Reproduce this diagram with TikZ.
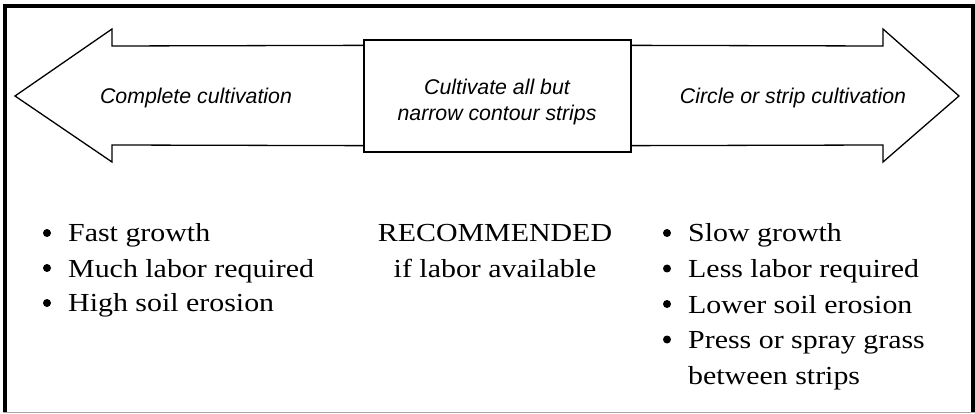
\documentclass[tikz,border=0pt]{standalone}
\usepackage{fontspec}
\setmainfont[FakeStretch=1.15]{Liberation Serif}
\setsansfont{Liberation Sans}
\begin{document}
\begin{tikzpicture}[x=1pt,y=-1pt,
  outline/.style={draw=black, line width=1.3pt, line join=miter},
  arrowlabel/.style={font=\sffamily\itshape\fontsize{21.3}{26}\selectfont, anchor=base, inner sep=0},
  midlabel/.style={font=\sffamily\itshape\fontsize{21.3}{26}\selectfont, align=center, inner sep=0},
  listitem/.style={font=\rmfamily\fontsize{26}{35}\selectfont, anchor=base west, inner sep=0},
  centeritem/.style={font=\rmfamily\fontsize{26}{35}\selectfont, anchor=base, inner sep=0},
  dot/.style={fill=black}]
\useasboundingbox (0,0) rectangle (975,414);
\fill[white] (0,0) rectangle (975,414);

% outer frame
\draw[line width=4pt] (5,412) -- (5,6) -- (973,6) -- (973,412);
\draw[gray!70, line width=1pt] (3,412.5) -- (975,412.5);

% middle box
\node[outline, minimum width=267pt, minimum height=112pt, inner sep=0] (mid) at (497.5,96) {};

% arrows leaving the middle box on both sides
\coordinate (lt) at ([yshift=-6pt]mid.north west);
\coordinate (lb) at ([yshift=7pt]mid.south west);
\coordinate (rt) at ([yshift=-6pt]mid.north east);
\coordinate (rb) at ([yshift=7pt]mid.south east);
\draw[outline] (lt) -- (112,46) -- (112,29) -- (15,96) -- (112,162) -- (112,145) -- (lb);
\draw[outline] (rt) -- (883,46) -- (883,29) -- (959,96) -- (883,162) -- (883,145) -- (rb);

% labels on the arrows and in the box
\node[arrowlabel] (lefttxt) at (196,104) {Complete cultivation};
\node[arrowlabel] (righttxt) at (793,104) {Circle or strip cultivation};
\node[midlabel] (midtxt) at (497,101.5) {Cultivate all but\\narrow contour strips};

% left column
\node[listitem] (l1) at (68,242) {Fast growth};
\node[listitem] (l2) at (68,277) {Much labor required};
\node[listitem] (l3) at (68,312) {High soil erosion};

% centre column
\node[centeritem] (c1) at (495,242) {RECOMMENDED};
\node[centeritem] (c2) at (495,277) {if labor available};

% right column
\node[listitem] (r1) at (688,242) {Slow growth};
\node[listitem] (r2) at (688,277.5) {Less labor required};
\node[listitem] (r3) at (688,313) {Lower soil erosion};
\node[listitem] (r4) at (688,348.5) {Press or spray grass};
\node[listitem] (r5) at (688,384) {between strips};

% bullets in front of the list items
\foreach \n in {l1,l2,l3,r1,r2,r3,r4}
  \fill[dot] ([xshift=-21pt,yshift=9pt]\n.base west) circle (4pt);
\end{tikzpicture}
\end{document}
